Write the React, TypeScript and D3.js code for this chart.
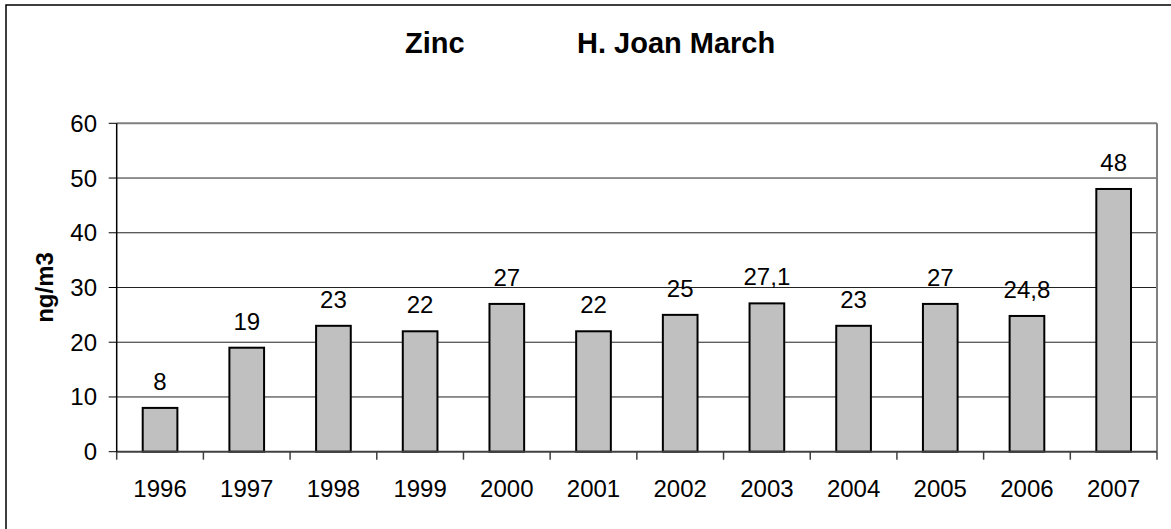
import React from "react";
import * as d3 from "d3";

const years = ["1996","1997","1998","1999","2000","2001","2002","2003","2004","2005","2006","2007"];
const values = [8, 19, 23, 22, 27, 22, 25, 27.1, 23, 27, 24.8, 48];
const yTicks = [0, 10, 20, 30, 40, 50, 60];
const labels = ["8","19","23","22","27","22","25","27,1","23","27","24,8","48"];

const W = 1171, H = 529;
const left = 116.7, right = 1157, top = 123.3, bottom = 451.7;
const font = "'Liberation Sans', Arial, sans-serif";

export default function App() {
  const x = d3.scaleBand<string>().domain(years).range([left, right]).padding(0);
  const y = d3.scaleLinear().domain([0, 60]).range([bottom, top]);
  const bw = x.bandwidth() * 0.4;
  return (
    <svg width={W} height={H} style={{ position: "absolute", left: 0, top: 0, background: "#fff" }}>
      <rect x={0} y={0} width={W} height={H} fill="#fff" />
      <rect x={6} y={5} width={W + 20} height={H + 20} fill="none" stroke="#000" strokeWidth={1.5} />
      <text x={405} y={52.5} fontFamily={font} fontWeight="bold" fontSize={29}>Zinc</text>
      <text x={577} y={52.5} fontFamily={font} fontWeight="bold" fontSize={29}>H. Joan March</text>
      {yTicks.filter(t => t > 0 && t < 60).map(t => (
        <line key={"g" + t} x1={left} x2={right} y1={y(t)} y2={y(t)} stroke="#222" strokeWidth={1} />
      ))}
      <line x1={left} x2={right} y1={y(60)} y2={y(60)} stroke="#808080" strokeWidth={2} />
      <line x1={right} x2={right} y1={y(60)} y2={bottom} stroke="#808080" strokeWidth={2} />
      {years.map((yr, i) => {
        const cx = (x(yr) as number) + x.bandwidth() / 2;
        return (
          <g key={yr}>
            <rect x={cx - bw / 2} y={y(values[i])} width={bw} height={bottom - y(values[i])} fill="#C0C0C0" stroke="#000" strokeWidth={2} />
            <text x={cx} y={y(values[i]) - 18} textAnchor="middle" fontFamily={font} fontSize={24}>{labels[i]}</text>
            <text x={cx} y={497} textAnchor="middle" fontFamily={font} fontSize={24}>{yr}</text>
          </g>
        );
      })}
      {years.concat(["end"]).map((yr, i) => {
        const tx = left + i * x.step();
        return <line key={"t" + i} x1={tx} x2={tx} y1={bottom} y2={bottom + 8} stroke="#404040" strokeWidth={1.5} />;
      })}
      <line x1={left} x2={right} y1={bottom} y2={bottom} stroke="#404040" strokeWidth={2} />
      <line x1={left} x2={left} y1={top} y2={bottom} stroke="#000" strokeWidth={1.5} />
      {yTicks.map(t => (
        <g key={"y" + t}>
          <line x1={left - 8} x2={left} y1={y(t)} y2={y(t)} stroke="#000" strokeWidth={1} />
          <text x={97} y={y(t) + 8.5} textAnchor="end" fontFamily={font} fontSize={24}>{t}</text>
        </g>
      ))}
      <text transform={`translate(53,287.5) rotate(-90)`} textAnchor="middle" fontFamily={font} fontWeight="bold" fontSize={24}>ng/m3</text>
    </svg>
  );
}
